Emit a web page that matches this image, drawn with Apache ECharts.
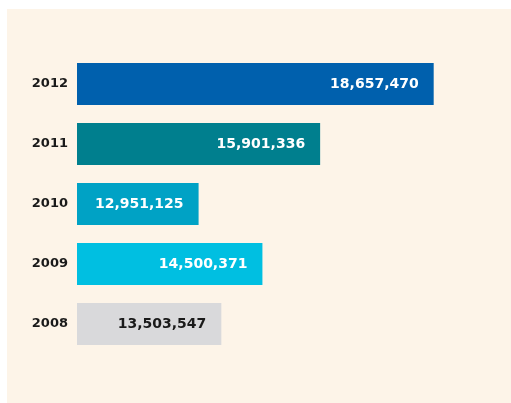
<!DOCTYPE html>
<html>
<head>
<meta charset="utf-8">
<script src="https://cdn.jsdelivr.net/npm/echarts@6/dist/echarts.min.js"></script>
<style>
  html, body { margin: 0; padding: 0; background: #ffffff; }
  #chart {
    position: absolute;
    left: 7px;
    top: 9px;
    width: 504px;
    height: 394px;
    background: #fdf4e8;
  }
</style>
</head>
<body>
<div id="chart"></div>
<script>
// 数据（从下到上）
var years = ['2008', '2009', '2010', '2011', '2012']
var visitors = [13503547, 14500371, 12951125, 15901336, 18657470]
var barColors = ['#d9d9db', '#00bfe1', '#00a2c5', '#007f8e', '#0060ad']
var labelColors = ['#1a1a1a', '#ffffff', '#ffffff', '#ffffff', '#ffffff']

var chart = echarts.init(document.getElementById('chart'))

var seriesData = visitors.map(function (v, i) {
  return {
    value: v,
    itemStyle: { color: barColors[i] },
    label: { color: labelColors[i] }
  }
})

var option = {
  animation: false,
  grid: {
    left: 70,
    top: 45,
    width: 412,
    height: 300
  },
  xAxis: {
    type: 'value',
    min: 10000000,
    max: 20000000,
    show: false
  },
  yAxis: {
    type: 'category',
    data: years,
    axisLine: { show: false },
    axisTick: { show: false },
    axisLabel: {
      color: '#1a1a1a',
      fontFamily: 'DejaVu Sans',
      fontWeight: 'bold',
      fontSize: 13,
      margin: 9
    }
  },
  series: [
    {
      type: 'bar',
      data: seriesData,
      barCategoryGap: '30%',
      label: {
        show: true,
        position: 'insideRight',
        distance: 15,
        fontFamily: 'DejaVu Sans',
        fontWeight: 'bold',
        fontSize: 14,
        formatter: function (p) {
          return p.value.toLocaleString('en-US')
        }
      }
    }
  ]
}

chart.setOption(option)
</script>
</body>
</html>
